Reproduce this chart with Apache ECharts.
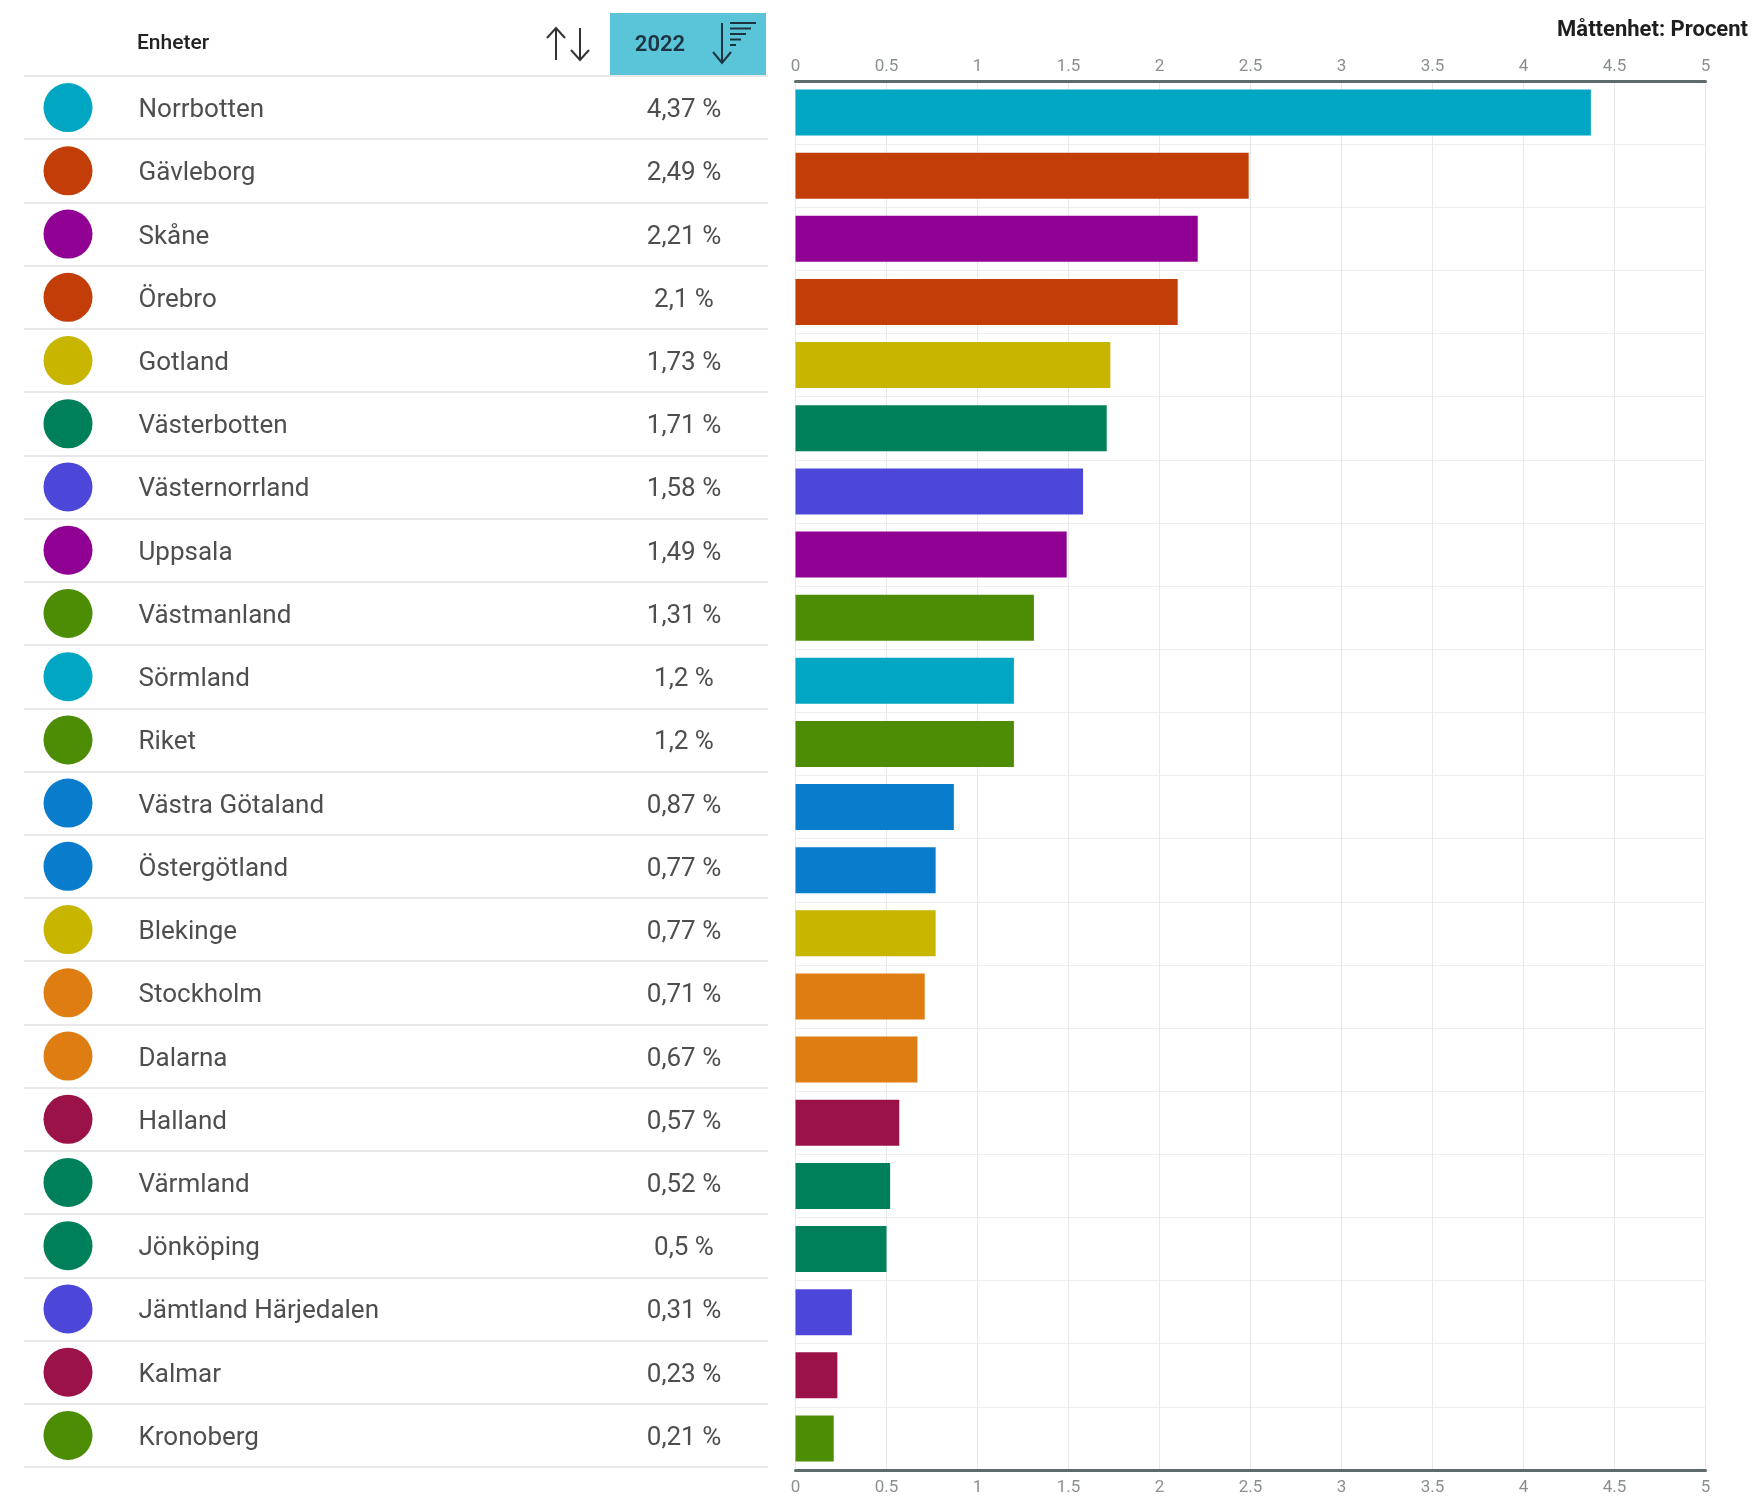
<!DOCTYPE html>
<html>
<head>
<meta charset="utf-8">
<script src="https://cdn.jsdelivr.net/npm/echarts@6/dist/echarts.min.js"></script>
<style>
html,body{margin:0;padding:0;background:#fff;}
#chart{width:1757px;height:1496px;}
</style>
</head>
<body>
<div id="chart"></div>
<script>
const categories = ['Norrbotten','Gävleborg','Skåne','Örebro','Gotland','Västerbotten','Västernorrland','Uppsala','Västmanland','Sörmland','Riket','Västra Götaland','Östergötland','Blekinge','Stockholm','Dalarna','Halland','Värmland','Jönköping','Jämtland Härjedalen','Kalmar','Kronoberg'];
const values2022 = [4.37,2.49,2.21,2.1,1.73,1.71,1.58,1.49,1.31,1.2,1.2,0.87,0.77,0.77,0.71,0.67,0.57,0.52,0.5,0.31,0.23,0.21];
const barColors = ['#00a6c2','#c23d08','#8f0093','#c23d08','#c7b500','#00805a','#4c47d9','#8f0093','#4d8c05','#00a6c2','#4d8c05','#0a7ccc','#0a7ccc','#c7b500','#dd7d12','#dd7d12','#9a1248','#00805a','#00805a','#4c47d9','#9a1248','#4d8c05'];
const axisMin = 0, axisMax = 5, axisStep = 0.5;
const yearLabel = '2022';
const unitLabel = 'Måttenhet: Procent';
const headerLabel = 'Enheter';

const fmt = v => String(v).replace('.', ',') + ' %';
const FONT = 'Roboto, "Noto Sans", sans-serif';

const chart = echarts.init(document.getElementById('chart'), null, {renderer: 'canvas'});

const valueAxisCommon = {
  type: 'value', min: axisMin, max: axisMax, interval: axisStep,
  axisLine: {show: true, lineStyle: {color: '#5f6a6c', width: 3}},
  axisTick: {show: false},
  axisLabel: {color: '#8a8f91', fontSize: 17, fontFamily: FONT, margin: 6},
  splitLine: {show: true, lineStyle: {color: '#e4eaec', width: 1}}
};

const option = {
  animation: false,
  backgroundColor: '#fff',
  title: {
    text: unitLabel, right: 4, top: 14,
    textStyle: {fontSize: 22, fontWeight: 'bold', color: '#1e1e1e', fontFamily: FONT}
  },
  grid: [
    {left: 795.5, right: 51.5, top: 81, height: 1389, containLabel: false},
    {left: 24, width: 744, top: 76, height: 1391, containLabel: false}
  ],
  xAxis: [
    Object.assign({}, valueAxisCommon, {gridIndex: 0, position: 'top'}),
    Object.assign({}, valueAxisCommon, {gridIndex: 0, position: 'bottom', splitLine: {show: false},
      axisLabel: {color: '#8a8f91', fontSize: 17, fontFamily: FONT, margin: 9}}),
    {type: 'value', gridIndex: 1, min: 0, max: 744, show: false}
  ],
  yAxis: [
    {
      type: 'category', gridIndex: 0, data: categories, inverse: true,
      axisLine: {show: false}, axisTick: {show: false}, axisLabel: {show: false},
      splitLine: {show: true, interval: 0, lineStyle: {color: '#efefef', width: 1}}
    },
    {
      type: 'category', gridIndex: 1, data: categories, inverse: true,
      axisLine: {show: false}, axisTick: {show: false}, axisLabel: {show: false},
      splitLine: {show: true, interval: 0, lineStyle: {color: '#e8e8e8', width: 2}}
    }
  ],
  series: [
    {
      type: 'bar', xAxisIndex: 0, yAxisIndex: 0, barWidth: 46, silent: true,
      data: values2022.map((v, i) => ({value: v, itemStyle: {color: barColors[i]}}))
    },
    {
      type: 'scatter', xAxisIndex: 2, yAxisIndex: 1, symbol: 'circle', symbolSize: 49, silent: true,
      data: categories.map((c, i) => ({value: [44, c], itemStyle: {color: barColors[i], opacity: 1}}))
    },
    {
      type: 'scatter', xAxisIndex: 2, yAxisIndex: 1, symbolSize: 1, silent: true,
      itemStyle: {color: 'rgba(0,0,0,0)'},
      label: {show: true, position: 'right', distance: 0, offset: [0, 3], formatter: p => p.value[1],
        color: '#222', fontSize: 26, fontFamily: FONT},
      data: categories.map(c => [114, c])
    },
    {
      type: 'scatter', xAxisIndex: 2, yAxisIndex: 1, symbolSize: 1, silent: true,
      itemStyle: {color: 'rgba(0,0,0,0)'},
      label: {show: true, position: 'inside', offset: [0, 3], formatter: p => fmt(values2022[p.dataIndex]),
        color: '#222', fontSize: 26, fontFamily: FONT},
      data: categories.map(c => [660, c])
    }
  ],
  graphic: [
    {type: 'text', left: 137, top: 33, style: {text: headerLabel, fontSize: 21, fontWeight: 500, fill: '#222', fontFamily: FONT}},
    {type: 'polyline', shape: {points: [[556, 60], [556, 28]]}, style: {stroke: '#333', lineWidth: 2, fill: null}},
    {type: 'polyline', shape: {points: [[547, 38], [556, 28], [565, 38]]}, style: {stroke: '#333', lineWidth: 2, fill: null}},
    {type: 'polyline', shape: {points: [[580, 28], [580, 60]]}, style: {stroke: '#333', lineWidth: 2, fill: null}},
    {type: 'polyline', shape: {points: [[571, 50], [580, 60], [589, 50]]}, style: {stroke: '#333', lineWidth: 2, fill: null}},
    {type: 'rect', shape: {x: 610, y: 13, width: 156, height: 62}, style: {fill: '#5ac5d9'}},
    {type: 'text', x: 660, y: 45, style: {text: yearLabel, fontSize: 22, fontWeight: 600, fill: '#1d3440', fontFamily: FONT, align: 'center', verticalAlign: 'middle'}},
    {type: 'polyline', shape: {points: [[722, 23], [722, 63]]}, style: {stroke: '#1d3440', lineWidth: 2, fill: null}},
    {type: 'polyline', shape: {points: [[713, 52], [722, 63], [731, 52]]}, style: {stroke: '#1d3440', lineWidth: 2, fill: null}},
    {type: 'polyline', shape: {points: [[730, 23], [756, 23]]}, style: {stroke: '#1d3440', lineWidth: 2}},
    {type: 'polyline', shape: {points: [[730, 28.5], [751, 28.5]]}, style: {stroke: '#1d3440', lineWidth: 2}},
    {type: 'polyline', shape: {points: [[730, 34], [746, 34]]}, style: {stroke: '#1d3440', lineWidth: 2}},
    {type: 'polyline', shape: {points: [[730, 39.5], [741, 39.5]]}, style: {stroke: '#1d3440', lineWidth: 2}},
    {type: 'polyline', shape: {points: [[730, 45], [736, 45]]}, style: {stroke: '#1d3440', lineWidth: 2}}
  ]
};
chart.setOption(option);
</script>
</body>
</html>
